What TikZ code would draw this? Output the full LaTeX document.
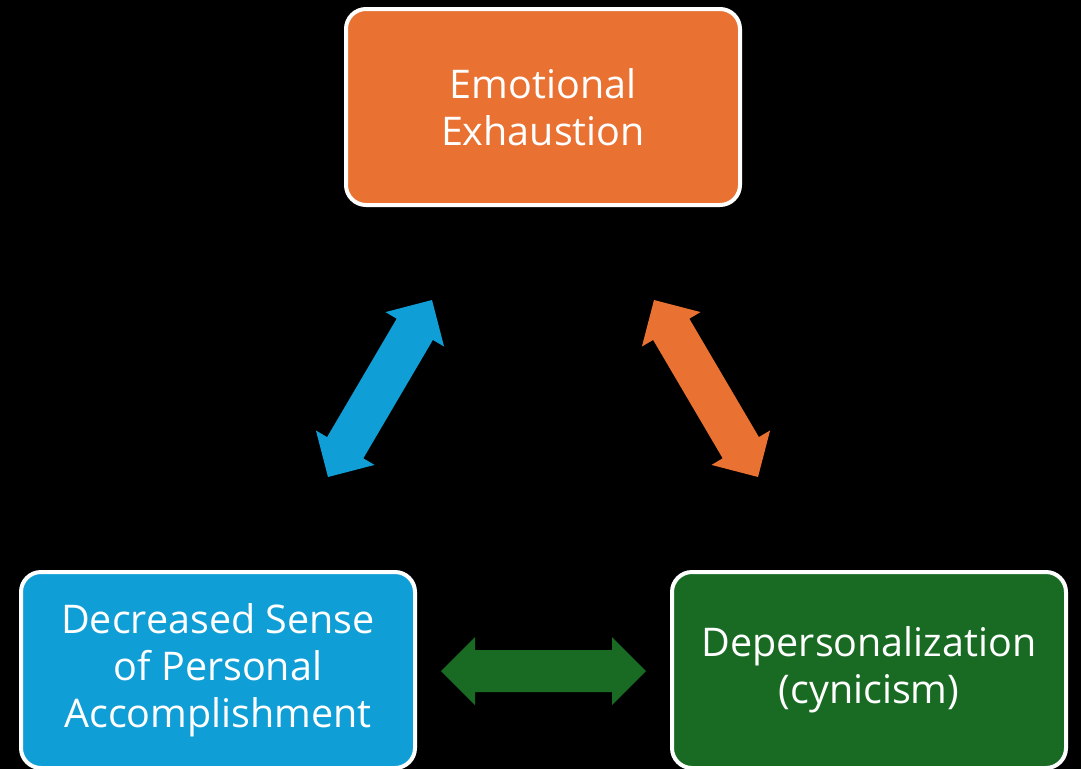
\documentclass[tikz,border=0pt]{standalone}
\usepackage{fontspec}
\setmainfont{Open Sans}
\usetikzlibrary{calc}
\definecolor{exorange}{HTML}{E97132}
\definecolor{exblue}{HTML}{0F9ED5}
\definecolor{exgreen}{HTML}{196B24}
\newcommand\dblarrow[3]{%
  \fill[#1]
    (#2) -- ($($(#2)!34pt!(#3)$)!34pt!90:(#3)$)
    -- ($($(#2)!34pt!(#3)$)!21pt!90:(#3)$)
    -- ($($(#3)!34pt!(#2)$)!21pt!-90:(#2)$)
    -- ($($(#3)!34pt!(#2)$)!34pt!-90:(#2)$)
    -- (#3)
    -- ($($(#3)!34pt!(#2)$)!34pt!90:(#2)$)
    -- ($($(#3)!34pt!(#2)$)!21pt!90:(#2)$)
    -- ($($(#2)!34pt!(#3)$)!21pt!-90:(#3)$)
    -- ($($(#2)!34pt!(#3)$)!34pt!-90:(#3)$)
    -- cycle;}
\begin{document}
\begin{tikzpicture}[x=1pt,y=-1pt,
  box/.style={draw=white, line width=4pt, rounded corners=20pt,
    minimum width=394pt, minimum height=196pt, inner sep=0pt,
    text=white, align=center, font=\fontsize{39.5}{47}\selectfont}]
\fill[black] (0,0) rectangle (1081,769);
\useasboundingbox (0,0) rectangle (1081,769);
\node[box, fill=exorange] (ee) at (543,107) {Emotional\\Exhaustion};
\node[box, fill=exblue] (pa) at (218,670) {Decreased Sense\\of Personal\\Accomplishment};
\node[box, fill=exgreen] (dp) at (869,670) {Depersonalization\\(cynicism)};
\coordinate (b1) at (328,477);
\coordinate (b2) at (432,300);
\coordinate (o1) at (654,300);
\coordinate (o2) at (758,477);
\coordinate (g1) at (441,671);
\coordinate (g2) at (646,671);
\dblarrow{exblue}{b1}{b2}
\dblarrow{exorange}{o1}{o2}
\dblarrow{exgreen}{g1}{g2}
\end{tikzpicture}
\end{document}
